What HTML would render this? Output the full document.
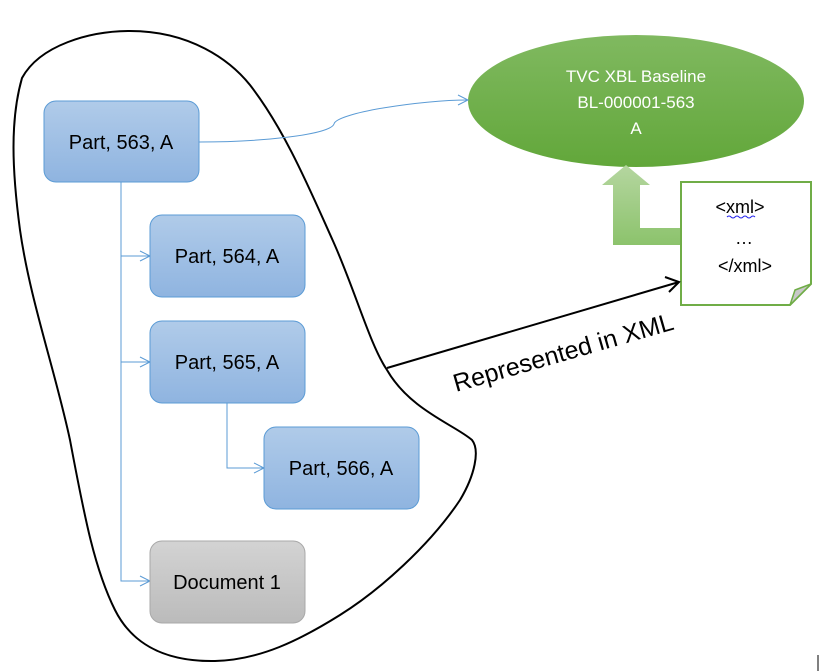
<!DOCTYPE html>
<html><head><meta charset="utf-8"><style>
html,body{margin:0;padding:0;background:#fff;}
svg{display:block;}
text{font-family:"Liberation Sans",sans-serif;}
</style></head><body>
<svg width="820" height="671" viewBox="0 0 820 671" xmlns="http://www.w3.org/2000/svg">
<defs>
<linearGradient id="bl" x1="0" y1="0" x2="0" y2="1"><stop offset="0" stop-color="#b0cbe9"/><stop offset="1" stop-color="#8fb4e0"/></linearGradient>
<linearGradient id="gr" x1="0" y1="0" x2="0" y2="1"><stop offset="0" stop-color="#d3d3d3"/><stop offset="1" stop-color="#bbbbbb"/></linearGradient>
<linearGradient id="gn" x1="0" y1="0" x2="0" y2="1"><stop offset="0" stop-color="#80b960"/><stop offset="1" stop-color="#62a73a"/></linearGradient>
<linearGradient id="ar" x1="0" y1="0" x2="0" y2="1"><stop offset="0" stop-color="#b5d6a0"/><stop offset="1" stop-color="#8cc36c"/></linearGradient>
</defs>
<path d="M130,31 C190,31 230,60 250,85 C285,130 310,190 333,241 C355,290 370,345 387,370 C410,410 455,425 472,440 C480,450 475,475 460,500 C430,545 380,590 340,615 C300,640 260,660 215,661 C160,662 130,640 115,610 C95,570 85,520 70,440 C55,370 30,300 20,230 C12,170 10,120 22,78 C40,45 90,31 130,31 Z" fill="none" stroke="#000" stroke-width="2"/>
<ellipse cx="636" cy="101" rx="168" ry="66" fill="url(#gn)"/>
<text x="636" y="82" font-size="17" fill="#fff" text-anchor="middle">TVC XBL Baseline</text>
<text x="636" y="108" font-size="17" fill="#fff" text-anchor="middle">BL-000001-563</text>
<text x="636" y="134" font-size="17" fill="#fff" text-anchor="middle">A</text>
<path d="M199,142 C260,142 330,135 334,124 C336,113 420,100 468,100" fill="none" stroke="#5b9bd5" stroke-width="1"/>
<path d="M458,95 L468,100 L458,105" fill="none" stroke="#5b9bd5" stroke-width="1"/>
<path d="M613,245 L680,245 L680,228 L640,228 L640,185 L650,185 L626,165 L602,185 L613,185 Z" fill="url(#ar)"/>
<path d="M681,182 L811,182 L811,284 L790,305 L681,305 Z" fill="#fff" stroke="#70ad47" stroke-width="2"/>
<path d="M811,284 L790,305 L795,290 Z" fill="#c8c8c8" stroke="#70ad47" stroke-width="1.5"/>
<text x="740" y="213" font-size="18" text-anchor="middle">&lt;xml&gt;</text>
<path d="M727,217 q2,-2 4,0 t4,0 t4,0 t4,0 t4,0 t4,0 t4,0" fill="none" stroke="#2222ee" stroke-width="1"/>
<text x="744" y="244" font-size="18" text-anchor="middle">…</text>
<text x="745" y="272" font-size="18" text-anchor="middle">&lt;/xml&gt;</text>
<line x1="387" y1="368" x2="679" y2="282" stroke="#000" stroke-width="2"/>
<path d="M665,277 L679,282 L669,292" fill="none" stroke="#000" stroke-width="2"/>
<text x="0" y="0" font-size="25" transform="translate(456,392) rotate(-16)">Represented  in XML</text>
<g stroke="#5b9bd5" stroke-width="1" fill="none">
<path d="M121,182 L121,581 L150,581"/>
<path d="M121,256 L150,256"/><path d="M121,362 L150,362"/>
<path d="M227,403 L227,468 L264,468"/>
<path d="M140,251 L150,256 L140,261"/><path d="M140,357 L150,362 L140,367"/>
<path d="M140,576 L150,581 L140,586"/><path d="M254,463 L264,468 L254,473"/>
</g>
<g stroke="#5b9bd5" stroke-width="1" fill="url(#bl)">
<rect x="44" y="101" width="155" height="81" rx="12"/>
<rect x="150" y="215" width="155" height="82" rx="12"/>
<rect x="150" y="321" width="155" height="82" rx="12"/>
<rect x="264" y="427" width="155" height="82" rx="12"/>
</g>
<rect x="150" y="541" width="155" height="82" rx="12" fill="url(#gr)" stroke="#a8a8a8"/>
<g font-size="20" text-anchor="middle">
<text x="121" y="149">Part, 563, A</text>
<text x="227" y="263">Part, 564, A</text>
<text x="227" y="369">Part, 565, A</text>
<text x="341" y="475">Part, 566, A</text>
<text x="227" y="589">Document 1</text>
</g>
<line x1="818" y1="655" x2="818" y2="671" stroke="#000" stroke-width="1"/>
</svg>
</body></html>
